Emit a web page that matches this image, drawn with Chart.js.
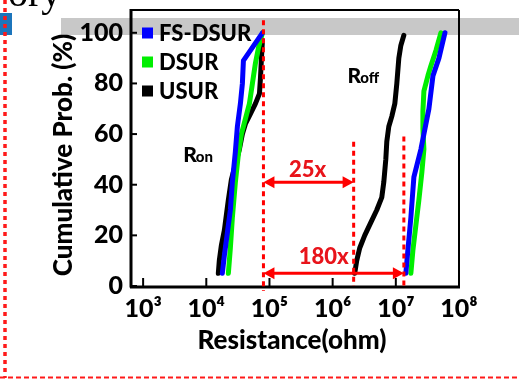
<!DOCTYPE html>
<html><head><meta charset="utf-8">
<script src="https://cdn.jsdelivr.net/npm/chart.js@4/dist/chart.umd.min.js"></script>
<style>html,body{margin:0;padding:0;background:#fff;overflow:hidden}</style>
</head><body>
<canvas id="c" width="519" height="379"></canvas>
<script>
// ---- data ----
const seriesNames = ['FS-DSUR', 'DSUR', 'USUR'];
// FS-DSUR
const fsRonRes  = [17950, 19310, 21540, 24040, 25860, 28850, 31060, 34650, 37270, 38680, 77430];
const fsRonProb = [5, 12, 21, 30, 41, 53, 63, 72, 80, 89, 100];
const fsRoffRes  = [14410000, 15500000, 17300000, 19310000, 24940000, 27830000, 33410000, 38680000, 48140000, 59950000];
const fsRoffProb = [5, 14, 27, 43, 54, 60, 70, 83, 90, 100];
// DSUR
const dRonRes  = [22350, 24040, 25860, 28850, 32200, 35940, 41590, 48140, 53730, 59950, 66900, 77430];
const dRonProb = [5, 15, 27, 41, 52, 60, 66, 72, 80, 88, 94, 100];
const dRoffRes  = [17300000, 18620000, 20770000, 23180000, 25860000, 27830000, 26830000, 26830000, 27830000, 32200000, 35940000, 43140000, 51800000];
const dRoffProb = [5, 14, 24, 34, 45, 54, 62, 69, 77, 83, 87, 93, 100];
// USUR
const uRonRes  = [15500, 16070, 17300, 19310, 20770, 22350, 24940, 28850, 33410, 37270, 41590, 49940, 59950, 69400, 71970, 74640, 77430];
const uRonProb = [5, 10, 16, 22, 28, 34, 42, 48, 54, 60, 64, 68, 72, 76, 82, 90, 97];
const uRoffRes  = [2235000, 2404000, 2683000, 3220000, 4011000, 4994000, 5995000, 6449000, 6940000, 7197000, 7743000, 8640000, 9640000, 10370000, 11160000, 12010000, 13400000];
const uRoffProb = [5, 10, 15, 20, 25, 30, 35, 41, 50, 57, 63, 67, 72, 80, 90, 95, 99];

const xTickExps = [3, 4, 5, 6, 7, 8];
const yTicks = [0, 20, 40, 60, 80, 100];
// annotation values (resistance for guide lines, ratio labels)
const guideRes = [80300, 2150000, 13400000];
const ratioLabels = ['25x', '180x'];
const ratioLabelRes = [401000, 720000];

const colors = ['#0000ff', '#00ee00', '#000000'];
const pts = (xs, ys) => xs.map((x, i) => ({x: x, y: ys[i]}));

const groups = [
  [fsRonRes, fsRonProb, fsRoffRes, fsRoffProb],
  [dRonRes, dRonProb, dRoffRes, dRoffProb],
  [uRonRes, uRonProb, uRoffRes, uRoffProb]
];
const datasets = [];
groups.forEach((g, i) => {
  const base = {label: seriesNames[i], borderColor: colors[i], backgroundColor: colors[i], borderWidth: 5,
    pointRadius: 0, showLine: true, tension: 0, borderCapStyle: 'round', borderJoinStyle: 'round', fill: false};
  datasets.push(Object.assign({}, base, {data: pts(g[0], g[1])}));
  datasets.push(Object.assign({}, base, {data: pts(g[2], g[3])}));
});

const SUP = {'3':'\u00b3','4':'\u2074','5':'\u2075','6':'\u2076','7':'\u2077','8':'\u2078'};
const FONT = 'Lato, "DejaVu Sans", sans-serif';

function seg(ctx, x1, y1, x2, y2) { ctx.beginPath(); ctx.moveTo(x1, y1); ctx.lineTo(x2, y2); ctx.stroke(); }
function arrowHead(ctx, x, y, dir) {
  ctx.beginPath(); ctx.moveTo(x, y); ctx.lineTo(x - dir * 11, y - 6); ctx.lineTo(x - dir * 11, y + 6); ctx.closePath(); ctx.fill();
}
function noPad(s) { s.paddingTop = 0; s.paddingBottom = 0; s.paddingLeft = 0; s.paddingRight = 0; }

const deco = {
  id: 'deco',
  beforeDraw(chart) {
    const ctx = chart.ctx;
    ctx.save();
    ctx.fillStyle = '#fff'; ctx.fillRect(0, 0, chart.width, chart.height);
    ctx.fillStyle = '#c8c8c8'; ctx.fillRect(61, 18, 458, 17);
    ctx.fillStyle = '#1c75bc'; ctx.fillRect(0, 13, 12, 22);
    ctx.fillStyle = '#000'; ctx.font = '40px "Liberation Serif"'; ctx.textBaseline = 'alphabetic'; ctx.textAlign = 'left';
    ctx.fillText('ory', 8, 6);
    ctx.strokeStyle = '#ff1a1a';
    ctx.lineWidth = 3.5; ctx.setLineDash([4, 4]); seg(ctx, 5, 0, 5, 378);
    ctx.lineWidth = 1.8; ctx.setLineDash([5, 3]); seg(ctx, 0, 377.5, chart.width, 377.5);
    ctx.restore();
  },
  afterDatasetsDraw(chart) {
    const ctx = chart.ctx, a = chart.chartArea, xs = chart.scales.x, ys = chart.scales.y;
    ctx.save();
    // frame
    ctx.strokeStyle = '#000'; ctx.setLineDash([]);
    ctx.lineWidth = 2; seg(ctx, a.left, a.top, a.right, a.top); seg(ctx, a.right, a.top, a.right, a.bottom);
    ctx.lineWidth = 3; seg(ctx, a.left + 1, a.top - 1, a.left + 1, a.bottom + 1.5); seg(ctx, a.left, a.bottom + 1, a.right + 1, a.bottom + 1);
    // tick marks inside
    ctx.lineWidth = 2;
    yTicks.forEach(v => { const y = ys.getPixelForValue(v); seg(ctx, a.left, y, a.left + 7, y); });
    xTickExps.slice(0, -1).forEach(e => { const x = xs.getPixelForValue(Math.pow(10, e)); seg(ctx, x, a.bottom, x, a.bottom - 8); });
    // red guides
    ctx.strokeStyle = '#ff0000'; ctx.fillStyle = '#ff0000';
    ctx.lineWidth = 3; ctx.setLineDash([5, 4]);
    const gx = guideRes.map(v => xs.getPixelForValue(v));
    seg(ctx, gx[0], ys.getPixelForValue(105), gx[0], a.bottom + 5);
    seg(ctx, gx[1], ys.getPixelForValue(57), gx[1], a.bottom);
    seg(ctx, gx[2], ys.getPixelForValue(59), gx[2], a.bottom);
    ctx.setLineDash([]);
    const ay1 = ys.getPixelForValue(41), ay2 = ys.getPixelForValue(5);
    seg(ctx, gx[0] + 4, ay1, gx[1] - 4, ay1); arrowHead(ctx, gx[0], ay1, -1); arrowHead(ctx, gx[1], ay1, 1);
    seg(ctx, gx[0] + 4, ay2, gx[2] - 4, ay2); arrowHead(ctx, gx[0], ay2, -1); arrowHead(ctx, gx[2], ay2, 1);
    ctx.fillStyle = '#e8141b'; ctx.font = '900 22px ' + FONT; ctx.textAlign = 'center'; ctx.textBaseline = 'middle';
    ctx.fillText(ratioLabels[0], xs.getPixelForValue(ratioLabelRes[0]), ys.getPixelForValue(46));
    ctx.fillText(ratioLabels[1], xs.getPixelForValue(ratioLabelRes[1]), ys.getPixelForValue(11.5));
    // Ron / Roff labels
    ctx.fillStyle = '#000'; ctx.textAlign = 'left'; ctx.textBaseline = 'alphabetic';
    const sub = (x, y, main, s) => {
      ctx.font = '900 21px ' + FONT; ctx.fillText(main, x, y);
      const w = ctx.measureText(main).width;
      ctx.font = '900 15px ' + FONT; ctx.fillText(s, x + w - 1, y);
    };
    sub(xs.getPixelForValue(4300), ys.getPixelForValue(49), 'R', 'on');
    sub(xs.getPixelForValue(1.72e6), ys.getPixelForValue(80), 'R', 'off');
    // legend
    ctx.font = '900 22px ' + FONT; ctx.textBaseline = 'middle';
    const ly = [33, 62, 91];
    seriesNames.forEach((n, i) => {
      ctx.fillStyle = colors[i]; ctx.fillRect(a.left + 12, ly[i] - 5.5, 11, 11);
      ctx.fillStyle = '#000'; ctx.fillText(n, a.left + 29, ly[i] + 1);
    });
    // axis titles
    ctx.font = '900 26px ' + FONT; ctx.textAlign = 'center'; ctx.textBaseline = 'middle';
    ctx.fillText('Resistance(ohm)', 292, 341);
    ctx.translate(64, 155); ctx.rotate(-Math.PI / 2);
    ctx.fillText('Cumulative Prob. (%)', 0, 0);
    ctx.restore();
  }
};

new Chart(document.getElementById('c'), {
  type: 'scatter',
  data: {datasets: datasets},
  options: {
    responsive: false, animation: false, devicePixelRatio: 1,
    layout: {padding: {left: 0, top: 10, right: 60, bottom: 0}},
    plugins: {legend: {display: false}, tooltip: {enabled: false}},
    scales: {
      x: {
        type: 'logarithmic', min: 620, max: 1e8,
        afterBuildTicks: s => { s.ticks = xTickExps.map(e => ({value: Math.pow(10, e)})); },
        afterFit: s => { s.height = 93; noPad(s); },
        grid: {display: false, drawTicks: false}, border: {display: false},
        ticks: {autoSkip: false, maxRotation: 0, padding: 8, color: '#000', font: {family: FONT, size: 25, weight: '900'},
          callback: v => '10' + SUP[String(Math.round(Math.log10(v)))]}
      },
      y: {
        min: 0, max: 109,
        afterBuildTicks: s => { s.ticks = yTicks.map(v => ({value: v})); },
        afterFit: s => { s.width = 130; noPad(s); },
        grid: {display: false, drawTicks: false}, border: {display: false},
        ticks: {padding: 7, color: '#000', font: {family: FONT, size: 25, weight: '900'}}
      }
    }
  },
  plugins: [deco]
});
</script>
</body></html>
